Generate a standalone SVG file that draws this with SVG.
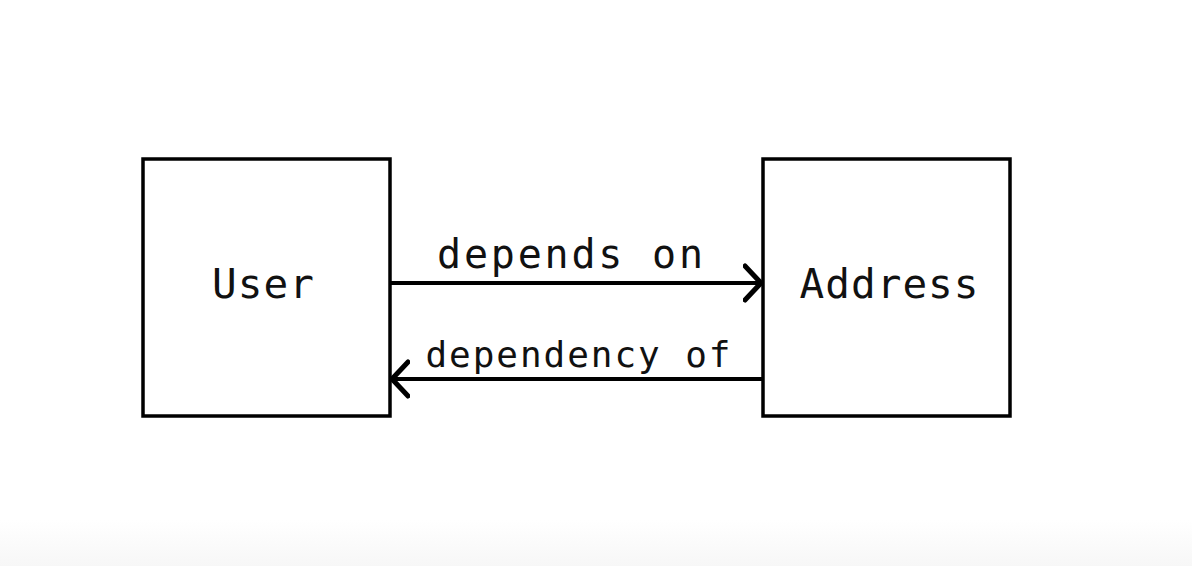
<svg xmlns="http://www.w3.org/2000/svg" width="1192" height="566" viewBox="0 0 1192 566">
  <defs>
    <linearGradient id="bottomFade" x1="0" y1="0" x2="0" y2="1">
      <stop offset="0" stop-color="#ffffff"/>
      <stop offset="1" stop-color="#f7f7f7"/>
    </linearGradient>
    <marker id="chevron" viewBox="0 0 20 40" refX="19" refY="20" markerWidth="20" markerHeight="40" markerUnits="userSpaceOnUse" orient="auto">
      <polyline points="2,3 18,20 2,37" fill="none" stroke="#000" stroke-width="5" stroke-linecap="round" stroke-linejoin="round"/>
    </marker>
    <style>
      .box { fill: #ffffff; stroke: #000; stroke-width: 3.5; }
      .label { font-family: "DejaVu Sans Mono", "Liberation Mono", monospace; fill: #111; }
      .edge { fill: none; stroke: #000; stroke-width: 4; marker-end: url(#chevron); }
    </style>
  </defs>
  <rect x="0" y="0" width="1192" height="566" fill="#ffffff"/>
  <rect x="0" y="520" width="1192" height="46" fill="url(#bottomFade)"/>

  <g id="connectors">
    <g id="edge-depends-on">
      <line class="edge" x1="391" y1="283" x2="762" y2="283"/>
      <text class="label" x="570" y="268" font-size="40" text-anchor="middle" textLength="266" lengthAdjust="spacing">depends on</text>
    </g>
    <g id="edge-dependency-of">
      <line class="edge" x1="762" y1="379" x2="391" y2="379"/>
      <text class="label" x="578" y="367" font-size="36" text-anchor="middle" textLength="305" lengthAdjust="spacing">dependency of</text>
    </g>
  </g>

  <g id="node-user">
    <rect class="box" x="143" y="159" width="247" height="257"/>
    <text class="label" x="263" y="298" font-size="41" text-anchor="middle" textLength="102" lengthAdjust="spacing">User</text>
  </g>

  <g id="node-address">
    <rect class="box" x="763" y="159" width="247" height="257"/>
    <text class="label" x="889" y="298" font-size="41" text-anchor="middle" textLength="179" lengthAdjust="spacing">Address</text>
  </g>
</svg>
